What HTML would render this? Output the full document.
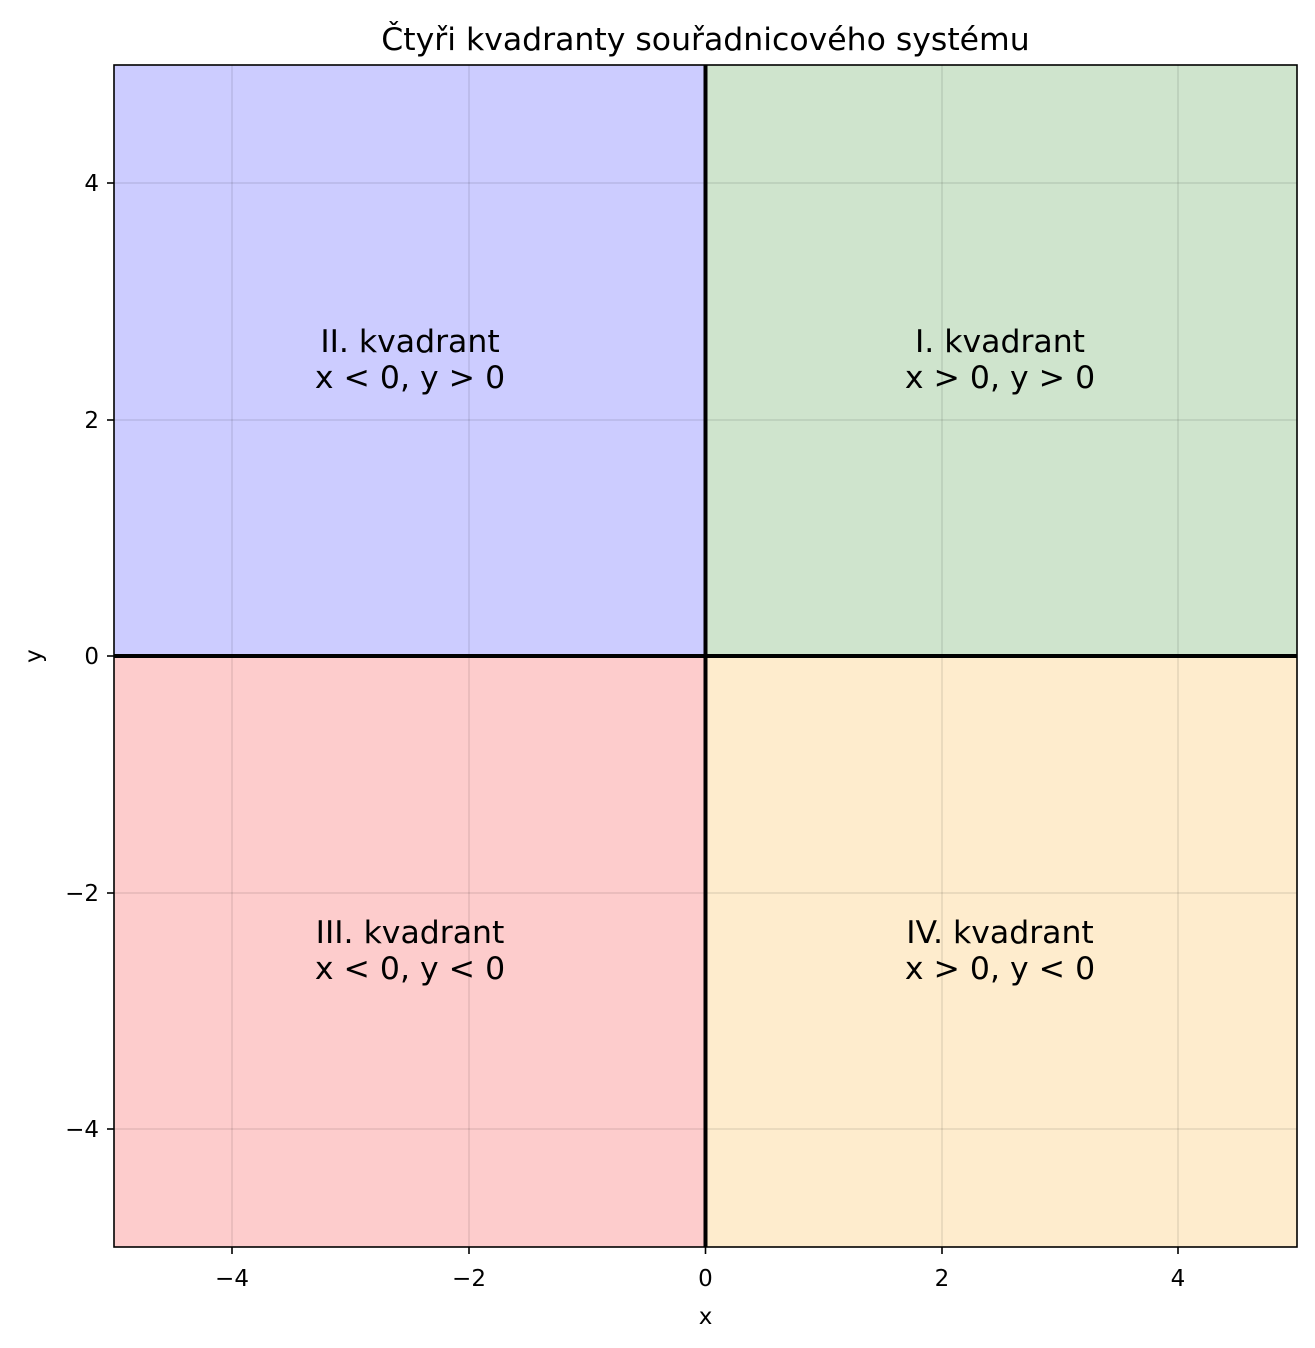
<!DOCTYPE html>
<html><head><meta charset="utf-8"><style>
body{margin:0;background:#fff}
svg{display:block;font-family:"DejaVu Sans","Liberation Sans",sans-serif}
</style></head><body>
<svg width="1315" height="1348" viewBox="0 0 1315 1348" xmlns="http://www.w3.org/2000/svg">
<rect width="1315" height="1348" fill="#fff"/>
<rect x="114" y="65" width="591.5" height="591" fill="#ccccff"/>
<rect x="705.5" y="65" width="591.5" height="591" fill="#cfe4cd"/>
<rect x="114" y="656" width="591.5" height="591" fill="#fdcccc"/>
<rect x="705.5" y="656" width="591.5" height="591" fill="#feeccd"/>
<g stroke="#000" stroke-opacity="0.1" stroke-width="1.5">
<line x1="232" y1="65" x2="232" y2="1247"/><line x1="469" y1="65" x2="469" y2="1247"/>
<line x1="942" y1="65" x2="942" y2="1247"/><line x1="1178" y1="65" x2="1178" y2="1247"/>
<line x1="114" y1="183" x2="1297" y2="183"/><line x1="114" y1="420" x2="1297" y2="420"/>
<line x1="114" y1="893" x2="1297" y2="893"/><line x1="114" y1="1129" x2="1297" y2="1129"/>
</g>
<line x1="705.5" y1="65" x2="705.5" y2="1247" stroke="#000" stroke-width="4"/>
<line x1="114" y1="656" x2="1297" y2="656" stroke="#000" stroke-width="4"/>
<rect x="114" y="65" width="1183" height="1182" fill="none" stroke="#000" stroke-width="1.6"/>
<g stroke="#000" stroke-width="1.6">
<line x1="232" y1="1247" x2="232" y2="1254"/><line x1="469" y1="1247" x2="469" y2="1254"/><line x1="705.5" y1="1247" x2="705.5" y2="1254"/><line x1="942" y1="1247" x2="942" y2="1254"/><line x1="1178" y1="1247" x2="1178" y2="1254"/>
<line x1="107" y1="183" x2="114" y2="183"/><line x1="107" y1="420" x2="114" y2="420"/><line x1="107" y1="656" x2="114" y2="656"/><line x1="107" y1="893" x2="114" y2="893"/><line x1="107" y1="1129" x2="114" y2="1129"/>
</g>
<g font-size="23" text-anchor="middle">
<text x="232" y="1286">−4</text><text x="469" y="1286">−2</text><text x="705.5" y="1286">0</text><text x="942" y="1286">2</text><text x="1178" y="1286">4</text>
<text x="705.5" y="1324">x</text>
</g>
<g font-size="23" text-anchor="end">
<text x="99" y="191">4</text><text x="99" y="428">2</text><text x="99" y="664">0</text><text x="99" y="901">−2</text><text x="99" y="1137">−4</text>
</g>
<text transform="translate(41,656) rotate(-90)" font-size="23" text-anchor="middle">y</text>
<text x="705.5" y="50" font-size="31.5" text-anchor="middle">Čtyři kvadranty souřadnicového systému</text>
<g font-size="31.5" text-anchor="middle">
<text x="1000" y="352">I. kvadrant</text><text x="1000" y="388">x &gt; 0, y &gt; 0</text>
<text x="410" y="352">II. kvadrant</text><text x="410" y="388">x &lt; 0, y &gt; 0</text>
<text x="410" y="943">III. kvadrant</text><text x="410" y="979">x &lt; 0, y &lt; 0</text>
<text x="1000" y="943">IV. kvadrant</text><text x="1000" y="979">x &gt; 0, y &lt; 0</text>
</g>
</svg>
</body></html>
